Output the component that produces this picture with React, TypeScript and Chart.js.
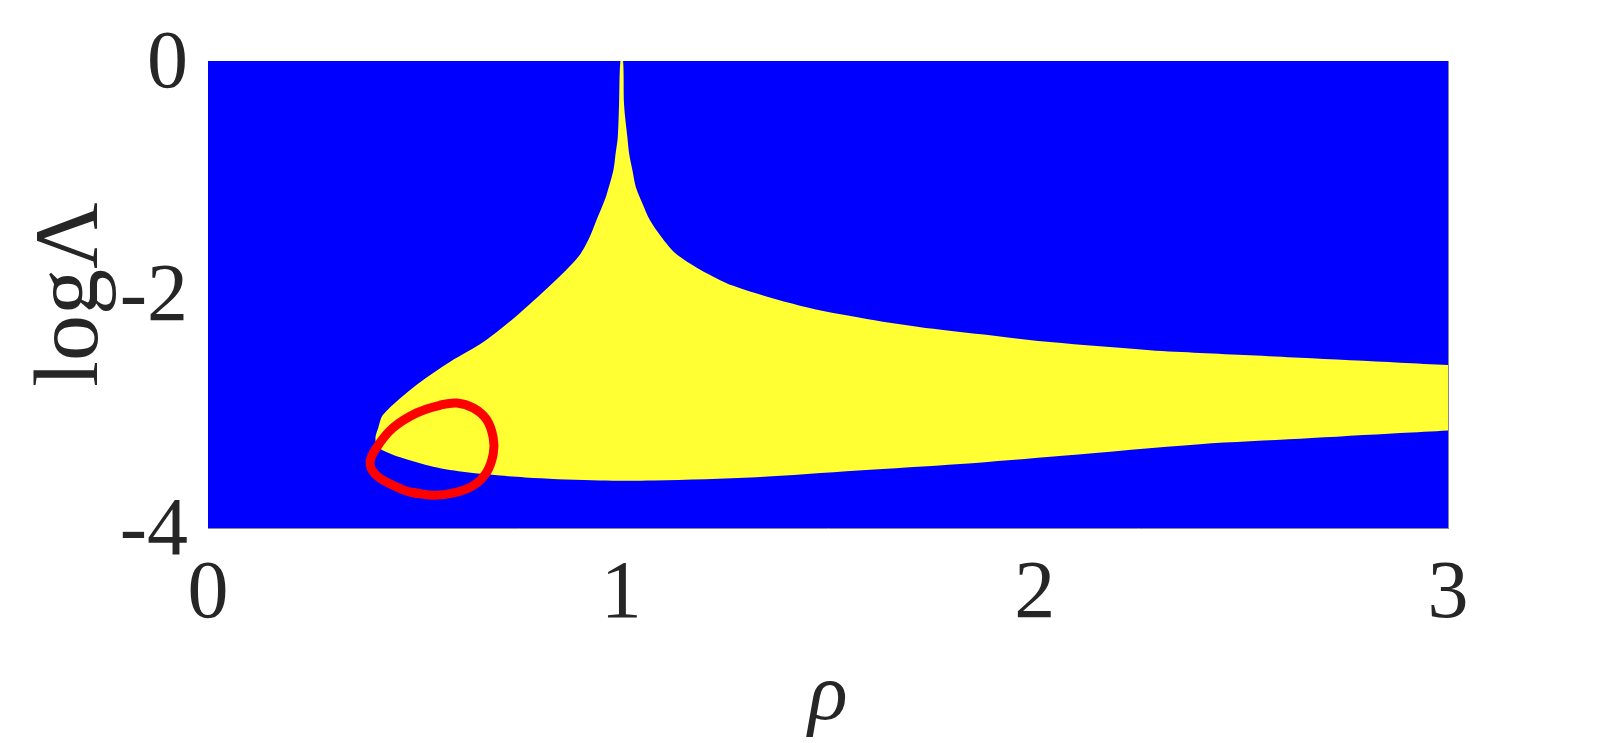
import React, { useEffect, useRef } from "react";
import { Chart, registerables } from "chart.js";

Chart.register(...registerables);

// Axis ticks
const xTickValues = [0, 1, 2, 3];
const yTickValues = [-4, -2, 0];

// Plot-area background (blue region) corners
const bgX = [0, 3, 3, 0];
const bgY = [-4, -4, 0, 0];

// Upper boundary of the yellow region (from right edge, over the spike, to the left tip)
const upperX = [3.0, 2.884, 2.642, 2.521, 2.4, 2.279, 2.037, 1.916, 1.755, 1.594, 1.432, 1.271, 1.19, 1.13, 1.096, 1.069, 1.051, 1.035, 1.027, 1.019, 1.0147, 1.0066, 1.0042, 0.9977, 0.9945, 0.9913, 0.986, 0.9807, 0.965, 0.9565, 0.94, 0.924, 0.897, 0.827, 0.747, 0.666, 0.586, 0.505, 0.424, 0.412];
const upperY = [-2.604, -2.584, -2.542, -2.52, -2.5, -2.477, -2.407, -2.359, -2.294, -2.209, -2.096, -1.926, -1.785, -1.644, -1.503, -1.362, -1.22, -1.079, -0.938, -0.797, -0.655, -0.373, 0, 0, -0.373, -0.655, -0.797, -0.938, -1.136, -1.22, -1.362, -1.503, -1.672, -1.926, -2.181, -2.407, -2.576, -2.774, -3.028, -3.141];

// Lower boundary of the yellow region (from the left tip to the right edge)
const lowerX = [0.405, 0.412, 0.465, 0.545, 0.626, 0.707, 0.787, 0.948, 1.079, 1.326, 1.573, 1.82, 2.067, 2.4, 2.642, 2.884, 3.0];
const lowerY = [-3.232, -3.31, -3.395, -3.475, -3.523, -3.551, -3.571, -3.593, -3.593, -3.565, -3.508, -3.452, -3.381, -3.282, -3.236, -3.187, -3.164];

// Red closed loop (last points overlap the first ones so the stroke closes smoothly)
const loopX = [0.545, 0.489, 0.44, 0.404, 0.392, 0.408, 0.448, 0.505, 0.561, 0.602, 0.642, 0.674, 0.69, 0.69, 0.674, 0.642, 0.594, 0.545, 0.489];
const loopY = [-3.72, -3.692, -3.621, -3.537, -3.438, -3.311, -3.141, -3.014, -2.949, -2.929, -2.972, -3.071, -3.226, -3.367, -3.523, -3.636, -3.7, -3.72, -3.692];

const xTitle = "ρ";
const yTitle = "logΛ";

const toPts = (xs: number[], ys: number[]) => xs.map((x, i) => ({ x, y: ys[i] }));

export default function App() {
  const ref = useRef<HTMLCanvasElement | null>(null);

  useEffect(() => {
    const canvas = ref.current;
    if (!canvas) return;
    let alive = true;
    const yellowPts = [...toPts(upperX, upperY), ...toPts(lowerX, lowerY)];
    const serif = "'Liberation Serif', 'Times New Roman', Times, serif";
    const chart = new Chart(canvas, {
      type: "scatter",
      data: {
        datasets: [
          {
            data: toPts(loopX, loopY),
            showLine: true,
            borderColor: "#ff0000",
            borderWidth: 9,
            tension: 0.4,
            pointRadius: 0,
            fill: false,
            borderJoinStyle: "round",
            borderCapStyle: "round",
          } as any,
          {
            data: yellowPts,
            showLine: true,
            borderColor: "rgba(0,0,0,0)",
            borderWidth: 1,
            backgroundColor: "#ffff33",
            pointRadius: 0,
            fill: "shape",
            tension: 0.3,
          } as any,
          {
            data: toPts(bgX, bgY),
            showLine: true,
            borderColor: "rgba(0,0,0,0)",
            borderWidth: 1,
            backgroundColor: "#0000ff",
            pointRadius: 0,
            fill: "shape",
            tension: 0,
          } as any,
        ],
      },
      options: {
        animation: false,
        responsive: false,
        devicePixelRatio: 1,
        layout: { padding: { left: 0, top: 56, right: 0, bottom: 0 } },
        plugins: { legend: { display: false }, tooltip: { enabled: false } },
        scales: {
          x: {
            type: "linear",
            position: "bottom",
            min: 0,
            max: 3,
            afterBuildTicks: (s: any) => {
              s.ticks = xTickValues.map((v) => ({ value: v }));
            },
            afterFit: (s: any) => {
              s.height = 215;
            },
            grid: { display: false, drawTicks: false },
            border: { display: true, color: "#8a8a8a", width: 1, z: 1 },
            ticks: {
              padding: 26,
              color: "#262626",
              font: { family: serif, size: 82, lineHeight: 1 },
              callback: (v: any) => String(v),
              maxRotation: 0,
              autoSkip: false,
            },
            title: {
              display: true,
              text: xTitle,
              color: "#262626",
              padding: { top: 0, bottom: 5 },
              font: { family: serif, size: 82, style: "italic", lineHeight: 1 },
            },
          },
          y: {
            type: "linear",
            position: "left",
            min: -4,
            max: 0,
            afterBuildTicks: (s: any) => {
              s.ticks = yTickValues.map((v) => ({ value: v }));
            },
            afterFit: (s: any) => {
              s.width = 208;
            },
            grid: { display: false, drawTicks: false },
            border: { display: false },
            ticks: {
              padding: 20,
              labelOffset: 4,
              color: "#262626",
              font: { family: serif, size: 82, lineHeight: 1 },
              callback: (v: any) => String(v),
              autoSkip: false,
            },
            title: {
              display: true,
              text: yTitle,
              color: "#262626",
              padding: { top: 27, bottom: 0 },
              font: { family: serif, size: 92, lineHeight: 1 },
            },
          },
          y2: {
            type: "linear",
            position: "right",
            min: -4,
            max: 0,
            afterFit: (s: any) => {
              s.width = 152;
            },
            grid: { display: false, drawTicks: false },
            border: { display: true, color: "#8a8a8a", width: 1, z: 1 },
            ticks: { display: false },
            title: { display: false },
          },
        },
      } as any,
    });
    const fonts: any = (document as any).fonts;
    if (fonts && fonts.load) {
      Promise.all([
        fonts.load("82px 'Liberation Serif'"),
        fonts.load("italic 82px 'Liberation Serif'"),
      ])
        .catch(() => null)
        .then(() => {
          if (alive) chart.update();
        });
    }
    return () => {
      alive = false;
      chart.destroy();
    };
  }, []);

  return (
    <div style={{ position: "fixed", left: 0, top: 0, width: 1600, height: 743, background: "#ffffff" }}>
      <canvas ref={ref} width={1600} height={743} style={{ width: 1600, height: 743, display: "block" }} />
    </div>
  );
}
